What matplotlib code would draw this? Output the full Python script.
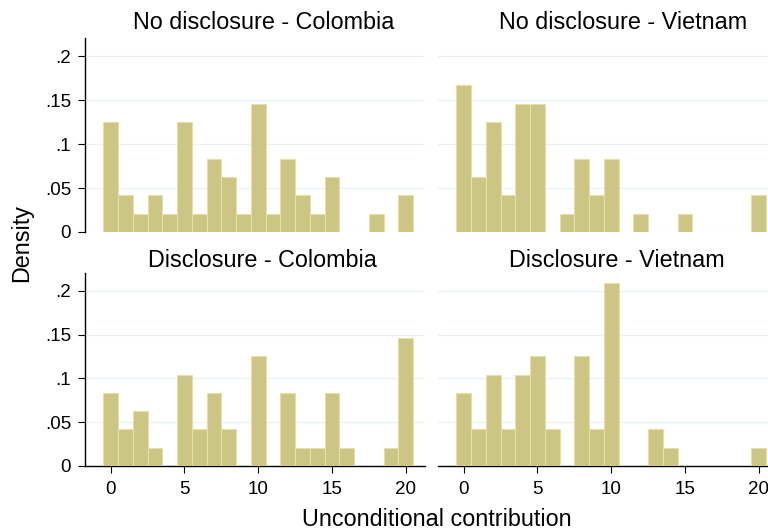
import numpy as np
from matplotlib import pyplot as plt

plt.rcParams['font.family'] = ['Liberation Sans', 'DejaVu Sans']

# contribution values and densities
x_nd_col = [0, 1, 2, 3, 4, 5, 6, 7, 8, 9, 10, 11, 12, 13, 14, 15, 18, 20]
d_nd_col = [.1250, .0417, .0208, .0417, .0208, .1250, .0208, .0833, .0625,
            .0208, .1458, .0208, .0833, .0417, .0208, .0625, .0208, .0417]

x_nd_vn = [0, 1, 2, 3, 4, 5, 7, 8, 9, 10, 12, 15, 20]
d_nd_vn = [.1667, .0625, .1250, .0417, .1458, .1458, .0208, .0833, .0417,
           .0833, .0208, .0208, .0417]

x_d_col = [0, 1, 2, 3, 5, 6, 7, 8, 10, 12, 13, 14, 15, 16, 19, 20]
d_d_col = [.0833, .0417, .0625, .0208, .1042, .0417, .0833, .0417, .1250,
           .0833, .0208, .0208, .0833, .0208, .0208, .1458]

x_d_vn = [0, 1, 2, 3, 4, 5, 6, 8, 9, 10, 13, 14, 20]
d_d_vn = [.0833, .0417, .1042, .0417, .1042, .1250, .0417, .1250, .0417,
          .2083, .0417, .0208, .0208]

titles = ['No disclosure - Colombia', 'No disclosure - Vietnam',
          'Disclosure - Colombia', 'Disclosure - Vietnam']
yticks = [0, .05, .1, .15, .2]
ylabels = ['0', '.05', '.1', '.15', '.2']
xticks = [0, 5, 10, 15, 20]

W, H = 768, 531
fig = plt.figure(figsize=(W / 100, H / 100), dpi=100)

def px_axes(left, top, width, height):
    return fig.add_axes([left / W, 1 - (top + height) / H, width / W, height / H])

panels = [
    (85, 38, x_nd_col, d_nd_col, True, False),
    (438, 38, x_nd_vn, d_nd_vn, False, False),
    (85, 272.7, x_d_col, d_d_col, True, True),
    (438, 272.7, x_d_vn, d_d_vn, False, True),
]
title_pos = [(264, 29), (623, 29), (262, 267), (617, 267)]

fill = '#cdc583'
edge = '#e4e0a8'
grid = '#e8f1f3'

for i, (left, top, xs, ds, first_col, bottom_row) in enumerate(panels):
    h = 194 if not bottom_row else 193.3
    ax = px_axes(left, top, 340, h)
    ax.bar(xs, ds, width=1, color=fill, edgecolor=edge, linewidth=0.8, zorder=3)
    ax.set_xlim(-1.74, 21.3)
    ax.set_ylim(0, 0.2205)
    for y in yticks:
        ax.axhline(y, color=grid, linewidth=0.9, zorder=1)
    ax.spines['top'].set_visible(False)
    ax.spines['right'].set_visible(False)
    ax.spines['left'].set_visible(first_col)
    ax.spines['bottom'].set_visible(bottom_row)
    ax.spines['left'].set_linewidth(1.0)
    ax.spines['bottom'].set_linewidth(1.0)
    ax.set_yticks(yticks)
    if first_col:
        ax.set_yticklabels(ylabels)
        ax.tick_params(axis='y', length=5, width=0.8, pad=5, labelsize=13.5)
    else:
        ax.tick_params(axis='y', left=False, labelleft=False)
    ax.set_xticks(xticks)
    if bottom_row:
        ax.tick_params(axis='x', length=5, width=0.8, pad=6, labelsize=13.5)
    else:
        ax.tick_params(axis='x', bottom=False, labelbottom=False)
    tx, ty = title_pos[i]
    fig.text(tx / W, 1 - ty / H, titles[i], fontsize=16.8, ha='center', va='baseline')

fig.text(21.7 / W, 1 - 243 / H, 'Density', fontsize=16.8, rotation=90,
         ha='center', va='center')
fig.text(437 / W, 1 - 526 / H, 'Unconditional contribution', fontsize=16.8,
         ha='center', va='baseline')

plt.savefig('out.png', dpi=100)
